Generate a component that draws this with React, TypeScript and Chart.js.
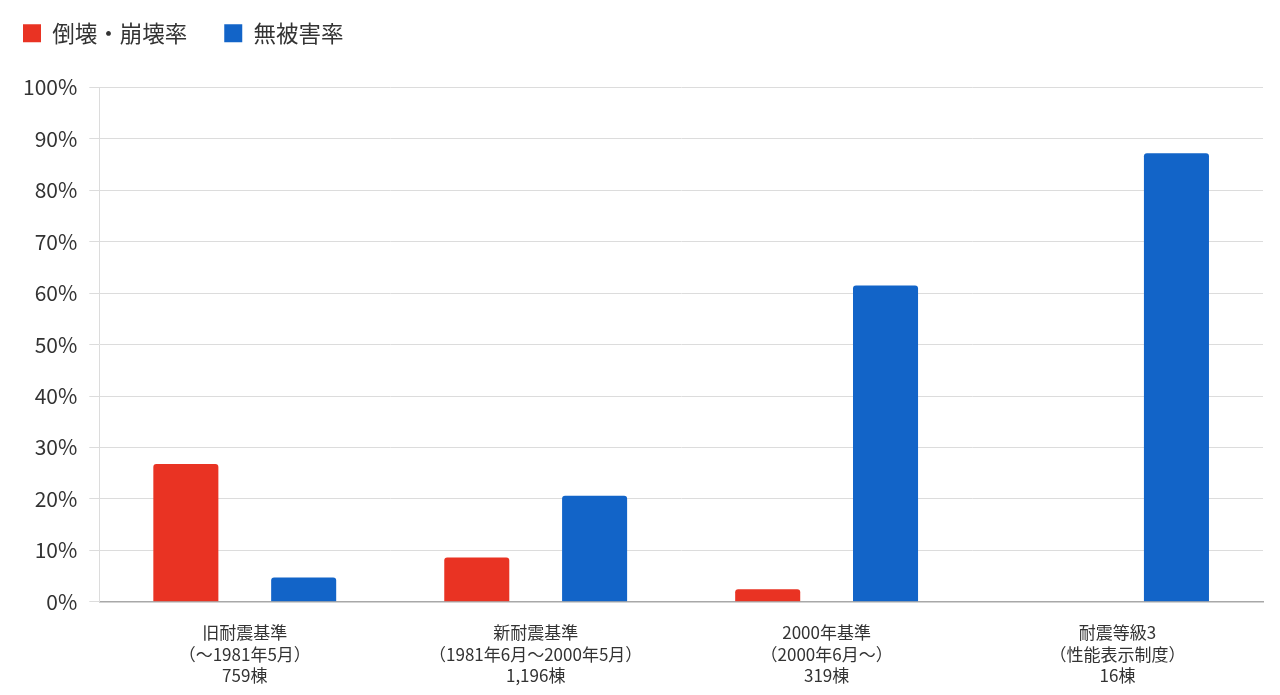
import React, { useEffect, useRef } from "react";
import { Chart, registerables } from "chart.js";

Chart.register(...registerables);

const categories: string[][] = [
  ["旧耐震基準", "（〜1981年5月）", "759棟"],
  ["新耐震基準", "（1981年6月〜2000年5月）", "1,196棟"],
  ["2000年基準", "（2000年6月〜）", "319棟"],
  ["耐震等級3", "（性能表示制度）", "16棟"],
];
const collapseRate: number[] = [26.8, 8.6, 2.4, 0];
const noDamageRate: number[] = [4.7, 20.6, 61.5, 87.2];
const seriesNames: string[] = ["倒壊・崩壊率", "無被害率"];

const FONT = "'Noto Sans CJK JP', 'Noto Sans', sans-serif";

const legendSpacing = {
  id: "legendSpacing",
  beforeInit(chart: any) {
    const legend = chart.legend;
    if (!legend) return;
    const origFit = legend.fit;
    legend.fit = function () {
      origFit.call(this);
      this.height += 18;
    };
  },
  beforeDraw(chart: any) {
    if (chart.legend) {
      chart.legend.left = -14;
      chart.legend.top = -15;
    }
  },
};

export default function App() {
  const ref = useRef<HTMLCanvasElement | null>(null);
  useEffect(() => {
    document.body.style.margin = "0";
    const ctx = ref.current!;
    const chart = new Chart(ctx, {
      type: "bar",
      data: {
        labels: categories,
        datasets: [
          {
            label: seriesNames[0],
            data: collapseRate,
            backgroundColor: "#E93323",
            borderRadius: 3,
            categoryPercentage: 0.81,
            barPercentage: 0.552,
          },
          {
            label: seriesNames[1],
            data: noDamageRate,
            backgroundColor: "#1264C8",
            borderRadius: 3,
            categoryPercentage: 0.81,
            barPercentage: 0.552,
          },
        ],
      },
      options: {
        animation: false,
        responsive: false,
        maintainAspectRatio: false,
        layout: { padding: { left: 0, right: 17, top: 0, bottom: 0 } },
        plugins: {
          tooltip: { enabled: false },
          legend: {
            position: "top",
            align: "start",
            labels: {
              boxWidth: 18,
              boxHeight: 18,
              padding: 37,
              color: "#333",
              font: { family: FONT, size: 22.5 },
            },
          },
        },
        scales: {
          x: {
            grid: { display: false },
            border: { color: "#a8a8a8", width: 1.5 },
            ticks: {
              color: "#333",
              font: { family: FONT, size: 17, lineHeight: 1.27 },
              padding: 12,
              maxRotation: 0,
              autoSkip: false,
            },
            afterFit: (s: any) => {
              s.height = 93.3;
            },
          },
          y: {
            min: 0,
            max: 100,
            ticks: {
              stepSize: 10,
              color: "#333",
              font: { family: FONT, size: 21 },
              padding: 12,
              callback: (v: any) => v + "%",
            },
            grid: { color: "#dcdcdc", tickLength: 10 },
            border: { color: "#dcdcdc" },
            afterFit: (s: any) => {
              s.width = 99.3;
            },
          },
        },
      },
      plugins: [legendSpacing],
    });
    return () => chart.destroy();
  }, []);
  return (
    <div style={{ width: 1280, height: 695, background: "#fff" }}>
      <canvas ref={ref} width={1280} height={695} style={{ width: 1280, height: 695, display: "block" }} />
    </div>
  );
}
